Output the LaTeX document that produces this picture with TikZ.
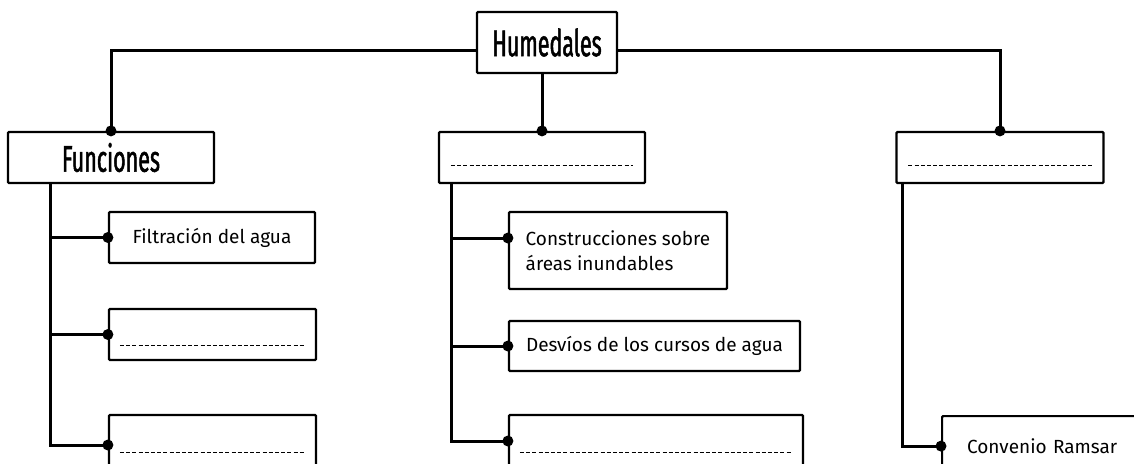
\documentclass[tikz,border=0pt]{standalone}
\usepackage{fontspec}
\setmainfont{Fira Sans}
\newfontfamily\headfont[FakeStretch=0.58,FakeBold=1.3]{Fira Sans}
\usetikzlibrary{calc}
\tikzset{
  box/.style={draw=black, line width=2.2pt, rounded corners=1pt, fill=white, inner sep=0pt,
    font=\fontsize{19}{25}\selectfont},
  headbox/.style={box, font=\headfont\fontsize{37}{37}\selectfont},
  conn/.style={line width=3pt, line join=miter},
  dline/.style={line width=1.1pt, dash pattern=on 4pt off 2.2pt},
  dot/.style={fill=black}
}
\newcommand{\dashin}[3]{\draw[dline] ($(#1.north west)+(#2,#3)$) -- ($(#1.north east)+(-#2,#3)$);}
\begin{document}
\begin{tikzpicture}[x=1pt,y=-1pt]
\useasboundingbox (0,0) rectangle (1134,463);
\clip (0,0) rectangle (1134,463);
% nodes
\node[headbox, minimum width=140, minimum height=61] (hum) at (547,42.5) {Humedales};
\node[headbox, minimum width=206, minimum height=51] (fun) at (111,157.5) {Funciones};
\node[box, minimum width=206, minimum height=51] (mid) at (542,157.5) {};
\node[box, minimum width=207, minimum height=51] (rgt) at (1000,157.5) {};
\node[box, minimum width=206, minimum height=51] (f1) at (212,237.5) {Filtración del agua};
\node[box, minimum width=207, minimum height=51] (f2) at (212.5,334.5) {};
\node[box, minimum width=207, minimum height=60] (f3) at (212.5,445) {};
\node[box, minimum width=218, minimum height=77, align=left] (m1) at (618,250.5) {Construcciones sobre\\áreas inundables};
\node[box, minimum width=291, minimum height=50] (m2) at (654.5,346) {Desvíos de los cursos de agua};
\node[box, minimum width=294, minimum height=60] (m3) at (656,445) {};
\node[box, minimum width=220, minimum height=60, anchor=north west, align=left, text width=170, inner xsep=25pt] (r1) at (941,415) {Convenio Ramsar};
% dashed placeholders
\dashin{mid}{13}{35}
\dashin{rgt}{13}{35}
\dashin{f2}{12}{38}
\dashin{f3}{12}{39}
\dashin{m3}{12}{39}
% connectors from Humedales
\draw[conn] ([yshift=-7.5pt]hum.west) -| (fun.north);
\draw[conn] ([yshift=-7.5pt]hum.east) -| (rgt.north);
\draw[conn] (hum.south -| mid.north) -- (mid.north);
\fill[dot] (fun.north) circle (5.5pt);
\fill[dot] (rgt.north) circle (5.5pt);
\fill[dot] (mid.north) circle (5.5pt);
% left trunk
\coordinate (lt) at ([xshift=44pt]fun.south west);
\draw[conn] (lt) |- (f3.west);
\draw[conn] (f1.west -| lt) -- (f1.west);
\draw[conn] (f2.west -| lt) -- (f2.west);
\fill[dot] (f1.west) circle (5.5pt);
\fill[dot] (f2.west) circle (5.5pt);
\fill[dot] (f3.west) circle (5.5pt);
% middle trunk
\coordinate (mt) at ([xshift=14pt]mid.south west);
\draw[conn] (mt) |- ([yshift=4pt]m3.west);
\coordinate (m1p) at ([yshift=12.5pt]m1.west);
\draw[conn] (m1p -| mt) -- (m1p);
\draw[conn] (m2.west -| mt) -- (m2.west);
\fill[dot] (m1p) circle (5.5pt);
\fill[dot] (m2.west) circle (5.5pt);
\fill[dot] ([yshift=4pt]m3.west) circle (5.5pt);
% right trunk
\coordinate (rt) at ([xshift=7.5pt]rgt.south west);
\draw[conn] (rt) |- (r1.west);
\fill[dot] (r1.west) circle (5.5pt);
\end{tikzpicture}
\end{document}
